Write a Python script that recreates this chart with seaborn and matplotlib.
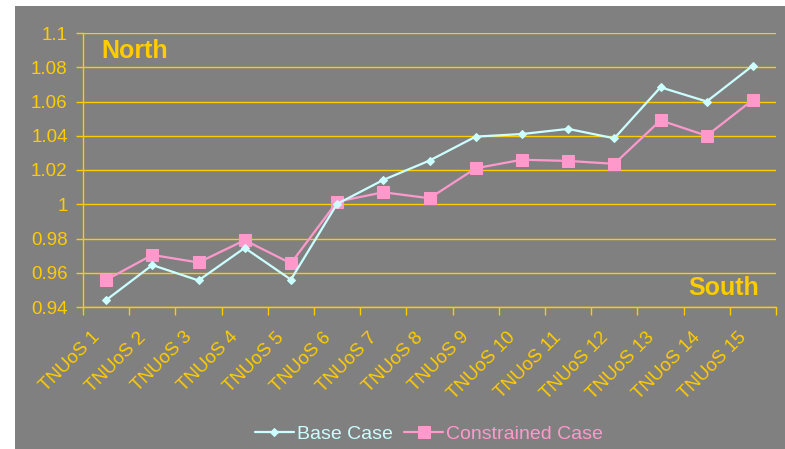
import numpy as np
import pandas as pd
import matplotlib
matplotlib.use("Agg")
import matplotlib.pyplot as plt
from matplotlib.patches import Rectangle
from matplotlib.transforms import ScaledTranslation
from matplotlib.ticker import FuncFormatter, FixedLocator
import seaborn as sns

categories = [f"TNUoS {i}" for i in range(1, 16)]
base_case = [0.944, 0.9645, 0.9555, 0.9745, 0.956, 1.0002, 1.0142, 1.0255,
             1.0395, 1.041, 1.044, 1.0385, 1.0683, 1.060, 1.081]
constrained_case = [0.9558, 0.9704, 0.966, 0.979, 0.9655, 1.0015, 1.007, 1.0035,
                    1.021, 1.026, 1.0253, 1.0236, 1.049, 1.040, 1.061]
y_ticks = [0.94, 0.96, 0.98, 1.0, 1.02, 1.04, 1.06, 1.08, 1.1]

GOLD = "#FFCC00"
GREY = "#808080"
CYAN = "#CCFFFF"
PINK = "#FF99CC"

sns.set_theme(style="white")
plt.rcParams["font.family"] = ["Liberation Sans", "DejaVu Sans"]

W, H = 785, 449
fig = plt.figure(figsize=(W / 100, H / 100), dpi=100, facecolor="white")
# grey chart-area background behind everything
fig.patches.append(Rectangle((15 / W, 0), 1 - 15 / W, 1 - 6 / H,
                             transform=fig.transFigure, facecolor=GREY,
                             edgecolor="none", zorder=-10))

left, right, top, bottom = 83, 776, 33, 307
ax = fig.add_axes([left / W, 1 - bottom / H, (right - left) / W, (bottom - top) / H])
ax.set_facecolor(GREY)

df = pd.DataFrame({"category": categories * 2,
                   "value": base_case + constrained_case,
                   "series": ["Base Case"] * 15 + ["Constrained Case"] * 15})

sns.lineplot(data=df[df.series == "Base Case"], x="category", y="value",
             color=CYAN, marker="D", markersize=4.5, markeredgecolor=CYAN,
             linewidth=1.6, ax=ax, sort=False, zorder=4, label="Base Case")
sns.lineplot(data=df[df.series == "Constrained Case"], x="category", y="value",
             color=PINK, marker="s", markersize=8.5, markeredgecolor=PINK,
             linewidth=1.6, ax=ax, sort=False, zorder=3, label="Constrained Case")

ax.set_xlim(-0.5, len(categories) - 0.5)
ax.set_ylim(y_ticks[0], y_ticks[-1])
ax.set_xlabel("")
ax.set_ylabel("")

ax.yaxis.set_major_locator(FixedLocator(y_ticks))
ax.yaxis.set_major_formatter(FuncFormatter(lambda v, p: f"{v:g}"))
ax.grid(axis="y", color=GOLD, linewidth=1.0)
ax.grid(axis="x", visible=False)
ax.set_axisbelow(True)

for side in ["top", "right"]:
    ax.spines[side].set_visible(False)
for side in ["left", "bottom"]:
    ax.spines[side].set_color(GOLD)
    ax.spines[side].set_linewidth(1.0)

ax.tick_params(axis="y", colors=GOLD, labelcolor=GOLD, length=5, width=1,
               direction="out", labelsize=13.5, pad=6, left=True)
ax.set_xticks(range(len(categories)))
ax.set_xticklabels(categories, rotation=45, ha="right", va="center",
                   rotation_mode="anchor")
ax.set_xticks(np.arange(-0.5, len(categories), 1), minor=True)
ax.tick_params(axis="x", which="major", length=0, labelcolor=GOLD,
               labelsize=13.5, pad=20)
ax.tick_params(axis="x", which="minor", length=6, width=1, color=GOLD,
               direction="out", bottom=True)
for lbl in ax.get_xticklabels():
    lbl.set_transform(lbl.get_transform() +
                      ScaledTranslation(-9 / 100, 0, fig.dpi_scale_trans))

fig.text(101 / W, 1 - 51 / H, "North", color=GOLD, fontsize=18,
         fontweight="bold", ha="left", va="center")
fig.text(759 / W, 1 - 288 / H, "South", color=GOLD, fontsize=18,
         fontweight="bold", ha="right", va="center")

leg = ax.legend(loc="center", bbox_to_anchor=(429 / W, 1 - 434 / H),
                bbox_transform=fig.transFigure, ncol=2, frameon=False,
                fontsize=14, handlelength=2.0, handletextpad=0.15,
                columnspacing=0.6)
for txt, col in zip(leg.get_texts(), [CYAN, PINK]):
    txt.set_color(col)

fig.savefig("out.png", dpi=100, facecolor="white")
